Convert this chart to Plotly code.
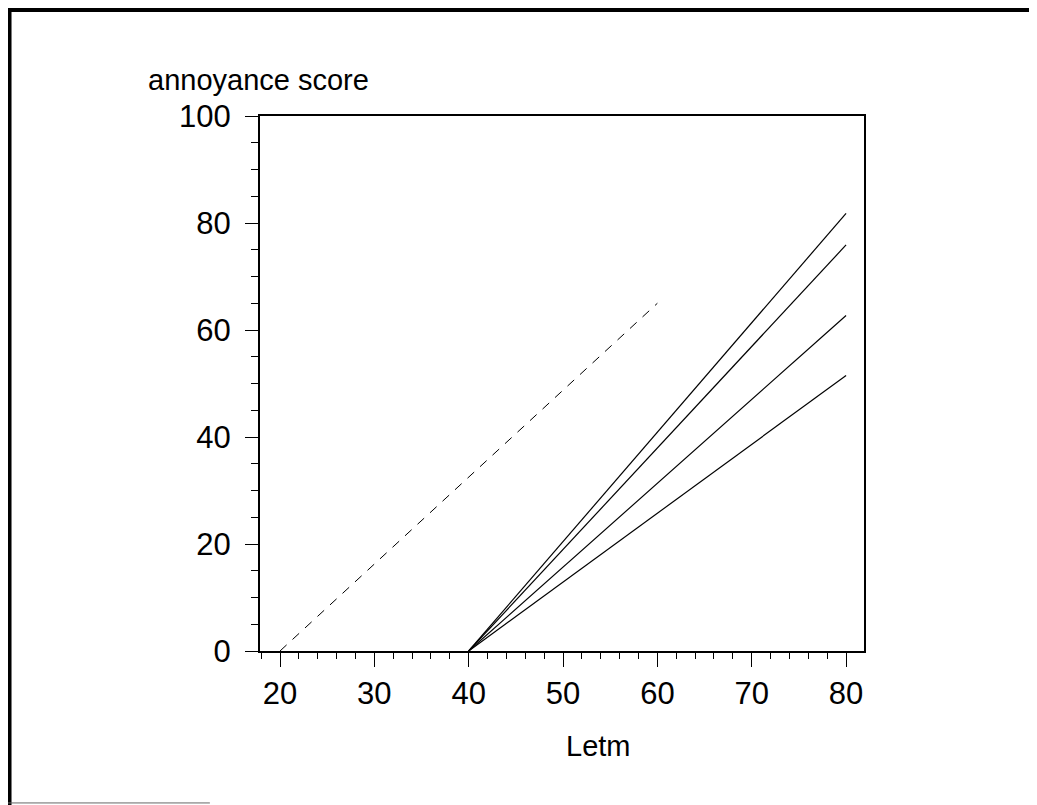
import plotly.graph_objects as go

# Data
reference_x = [20, 60]          # dashed reference line (Letm)
reference_y = [0, 65]
curve_x = [40, 80]              # Letm for solid curves
curve_end_values = [81.8, 75.9, 62.7, 51.5]   # annoyance score at Letm=80
curve_start_value = 0

x_ticks = [20, 30, 40, 50, 60, 70, 80]
y_ticks = [0, 20, 40, 60, 80, 100]

FONT = "Liberation Sans, Arial, sans-serif"

fig = go.Figure()

fig.add_trace(go.Scatter(
    x=reference_x, y=reference_y, mode="lines",
    line=dict(color="black", width=1, dash="9px,8px"),
    showlegend=False, hoverinfo="skip"))

for end in curve_end_values:
    fig.add_trace(go.Scatter(
        x=curve_x, y=[curve_start_value, end], mode="lines",
        line=dict(color="black", width=1.2),
        showlegend=False, hoverinfo="skip"))

fig.update_layout(
    width=1029, height=797,
    margin=dict(l=252, r=173, t=108, b=154),
    paper_bgcolor="white", plot_bgcolor="white",
    font=dict(family=FONT, color="black"),
    xaxis=dict(
        range=[17.88, 81.9], tickvals=x_ticks, ticktext=[str(v) for v in x_ticks],
        showgrid=False, zeroline=False,
        showline=True, linecolor="black", linewidth=2, mirror=True,
        ticks="outside", ticklen=14, tickwidth=1, tickcolor="black",
        tickfont=dict(size=31, family=FONT),
        minor=dict(dtick=2, tick0=0, ticks="outside", ticklen=6, tickwidth=1, tickcolor="black"),
    ),
    yaxis=dict(
        range=[0, 100], tickvals=y_ticks, ticktext=[str(v) for v in y_ticks],
        showgrid=False, zeroline=False,
        showline=True, linecolor="black", linewidth=2, mirror=True,
        ticks="outside", ticklen=13, tickwidth=1, tickcolor="black",
        tickfont=dict(size=31, family=FONT),
        ticklabelstandoff=8,
        minor=dict(dtick=5, tick0=0, ticks="outside", ticklen=7, tickwidth=1, tickcolor="black"),
    ),
    annotations=[
        dict(text="annoyance score", xref="paper", yref="paper",
             x=-0.189, y=1.067, xanchor="left", yanchor="middle",
             showarrow=False, font=dict(size=29, family=FONT, color="black")),
        dict(text="Letm", xref="paper", yref="paper",
             x=0.56, y=-0.178, xanchor="center", yanchor="middle",
             showarrow=False, font=dict(size=29, family=FONT, color="black")),
    ],
    shapes=[
        dict(type="line", xref="paper", yref="paper", x0=-0.42, x1=1.3, y0=1.198, y1=1.198,
             line=dict(color="black", width=4)),
        dict(type="line", xref="paper", yref="paper", x0=-0.4147, x1=-0.4147, y0=1.202, y1=-0.29,
             line=dict(color="black", width=4)),
        dict(type="line", xref="paper", yref="paper", x0=-0.42, x1=-0.083, y0=-0.284, y1=-0.284,
             line=dict(color="#666666", width=1)),
    ],
)

fig.write_html("out.html")
